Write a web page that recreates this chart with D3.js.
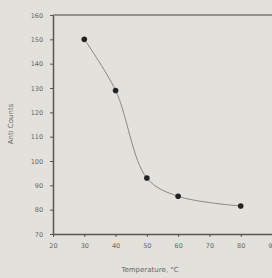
<!DOCTYPE html>
<html>
<head>
<meta charset="utf-8">
<script src="https://cdn.jsdelivr.net/npm/d3@7"></script>
<style>
  body { margin: 0; background: #e3e1dc; }
  svg { display: block; }
  .axis text { font-family: "DejaVu Sans", sans-serif; font-size: 6.5px; fill: #666; }
  .axis path, .axis line { stroke: #555; }
</style>
</head>
<body>
<div id="chart"></div>
<script>
var temps = [30, 40, 50, 60, 80];
var counts = [150, 129, 93, 85.5, 81.5];
var xTicks = [20, 30, 40, 50, 60, 70, 80, 90];
var yTicks = [70, 80, 90, 100, 110, 120, 130, 140, 150, 160];

var width = 272, height = 278;
var plotLeft = 53, plotRight = 272, plotTop = 15, plotBottom = 234;

var svg = d3.select('#chart')
            .append('svg')
            .attr('width', width)
            .attr('height', height);

svg.append('rect')
   .attr('width', width)
   .attr('height', height)
   .style('fill', '#e3e1dc');

var x = d3.scaleLinear().domain([20, 90]).range([plotLeft, plotRight]);
var y = d3.scaleLinear().domain([70, 160]).range([plotBottom, plotTop]);

// top border
svg.append('line')
   .attr('x1', plotLeft).attr('x2', width)
   .attr('y1', plotTop).attr('y2', plotTop)
   .style('stroke', '#777')
   .style('stroke-width', 1.5);

var gx = svg.append('g')
   .attr('class', 'axis')
   .attr('transform', 'translate(0,' + plotBottom + ')')
   .call(d3.axisBottom(x).tickValues(xTicks).tickSize(3).tickSizeOuter(0));
gx.select('.domain').style('stroke-width', 1.5);
gx.selectAll('text').attr('dy', '1.2em');

var gy = svg.append('g')
   .attr('class', 'axis')
   .attr('transform', 'translate(' + plotLeft + ',0)')
   .call(d3.axisLeft(y).tickValues(yTicks).tickSize(3).tickSizeOuter(0));
gy.select('.domain').style('stroke-width', 1.5);
gy.selectAll('text').attr('dx', '-0.6em');

var pts = temps.map(function(t, i) { return [t, counts[i]]; });

// smooth line through the points
var line = d3.line()
   .x(function(d) { return x(d[0]); })
   .y(function(d) { return y(d[1]); })
   .curve(d3.curveCatmullRom.alpha(0.5));

svg.append('path')
   .datum(pts)
   .attr('d', line)
   .style('fill', 'none')
   .style('stroke', '#888')
   .style('stroke-width', 1);

svg.selectAll('.pt')
   .data(pts)
   .enter()
   .append('circle')
   .attr('class', 'pt')
   .attr('cx', function(d) { return x(d[0]); })
   .attr('cy', function(d) { return y(d[1]); })
   .attr('r', 2.8)
   .style('fill', '#222');

svg.append('text')
   .attr('x', 150)
   .attr('y', 272)
   .attr('text-anchor', 'middle')
   .style('font-family', '"DejaVu Sans", sans-serif')
   .style('font-size', '7px')
   .style('fill', '#666')
   .text('Temperature, °C');

svg.append('text')
   .attr('transform', 'translate(13,124) rotate(-90)')
   .attr('text-anchor', 'middle')
   .style('font-family', '"DejaVu Sans", sans-serif')
   .style('font-size', '7px')
   .style('fill', '#666')
   .text('Anti Counts');
</script>
</body>
</html>
